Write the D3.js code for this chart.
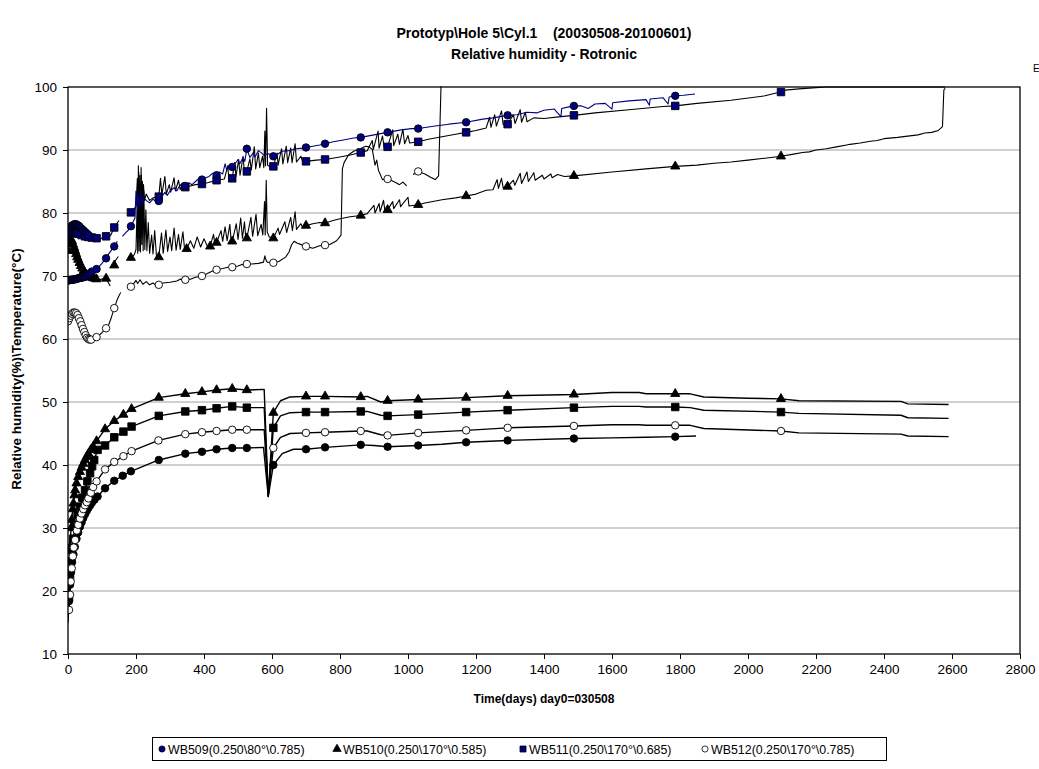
<!DOCTYPE html>
<html>
<head>
<meta charset="utf-8">
<script src="https://cdn.jsdelivr.net/npm/d3@7/dist/d3.min.js"></script>
<style>
  body { margin: 0; background: #fff; }
  svg { font-family: Arial, 'Liberation Sans', sans-serif; }
</style>
</head>
<body>
<div id="chart"></div>
<script>
const titleLines = ['Prototyp\\Hole 5\\Cyl.1    (20030508-20100601)', 'Relative humidity - Rotronic']
const xLabel = 'Time(days) day0=030508'
const yLabel = 'Relative humidity(%)\\Temperature(°C)'
const xTicks = [0, 200, 400, 600, 800, 1000, 1200, 1400, 1600, 1800, 2000, 2200, 2400, 2600, 2800]
const yTicks = [10, 20, 30, 40, 50, 60, 70, 80, 90, 100]
const legendNames = ['WB509(0.250\\80°\\0.785)', 'WB510(0.250\\170°\\0.585)', 'WB511(0.250\\170°\\0.685)', 'WB512(0.250\\170°\\0.785)']

// relative humidity, points with markers: [day, %]
const wb509RhArc = [[0,76.9],[3,77.3],[6,77.6],[9,77.8],[12,78.0],[15,78.1],[18,78.2],[21,78.2],[24,78.2],[27,78.1],[30,78.0],[33,77.9],[36,77.7],[40,77.5],[44,77.3],[48,77.1],[52,76.9],[56,76.7],[60,76.5]]
const wb509RhMarks = [[0,69.3],[3,69.3],[6,69.4],[9,69.4],[12,69.4],[15,69.4],[18,69.5],[21,69.5],[24,69.5],[27,69.6],[30,69.6],[34,69.7],[38,69.7],[42,69.8],[46,69.8],[50,69.9],[55,70.0],[60,70.2],[65,70.4],[70,70.7],[84,71.1],[112,72.8],[136,74.7],[185,77.9],[267,81.9],[345,84.3],[394,85.3],[437,86.0],[483,87.3],[526,90.2],[604,89.0],[700,90.4],[756,91.0],[861,92.0],[940,92.8],[1030,93.4],[1171,94.4],[1293,95.5],[1488,97.0],[1786,98.6]]
const wb509RhExtra = [[90,71.4],[100,72.0],[108,72.6],[118,73.4],[145,75.5],[150,null],[160,76.3],[170,76.9],[178,77.3],[190,78.4],[197,79.2],[200,83.5],[203,80.5],[206,82.8],[210,81.0],[214,83.5],[218,81.2],[222,82.5],[230,82.0],[240,81.6],[250,82.2],[258,81.8],[275,82.5],[285,83.3],[292,82.8],[300,83.5],[312,84.0],[320,83.5],[330,84.5],[340,83.9],[355,84.8],[365,84.5],[375,85.0],[385,85.5],[405,85.6],[415,85.8],[425,86.3],[445,86.5],[455,86.2],[462,87.8],[467,86.8],[475,87.6],[490,87.7],[500,88.5],[505,87.8],[515,88.8],[520,88.2],[535,88.8],[545,89.6],[550,88.9],[560,89.9],[570,89.5],[575,89.2],[590,89.4],[615,89.3],[630,89.8],[650,89.9],[670,90.2],[690,90.3],[720,90.6],[740,90.8],[780,91.3],[810,91.6],[840,91.9],[900,92.4],[980,93.2],[1010,93.4],[1080,93.8],[1120,94.1],[1220,94.9],[1250,95.1],[1320,95.6],[1350,96.0],[1380,95.9],[1400,96.3],[1430,96.5],[1450,95.3],[1452,96.6],[1470,96.8],[1510,97.0],[1530,96.6],[1550,97.3],[1580,97.4],[1600,96.5],[1602,97.5],[1650,97.8],[1700,98.0],[1710,97.1],[1712,98.1],[1750,98.3],[1765,97.3],[1768,98.4],[1810,98.7],[1844,98.9]]

const wb510RhMarks = [[0,74.0],[3,75.2],[6,75.7],[9,75.8],[12,75.5],[15,75.0],[18,74.5],[21,74.0],[24,73.5],[27,73.0],[30,72.6],[34,72.1],[38,71.6],[42,71.2],[46,70.8],[50,70.5],[55,70.2],[60,70.0],[66,69.8],[72,69.7],[78,69.6],[84,69.5],[112,69.6],[136,71.7],[185,72.9],[267,73.0],[349,74.3],[418,74.7],[437,75.3],[483,75.5],[526,76.0],[604,76.0],[700,78.0],[756,78.4],[861,79.6],[940,80.5],[1030,81.3],[1171,82.7],[1293,84.2],[1488,85.9],[1786,87.4],[2097,89.0]]
const wb510RhExtra = [[90,69.4],[100,69.5],[124,68.4],[128,null],[140,72.5],[148,73.1],[152,null],[195,73.4],[200,74.2],[203,80.5],[205,73.6],[207,87.5],[209,74.0],[211,86.0],[213,73.8],[215,87.2],[217,75.0],[219,85.0],[221,74.0],[223,83.5],[226,74.2],[229,80.5],[232,74.0],[236,78.5],[240,73.6],[246,76.5],[250,73.5],[255,77.2],[260,73.3],[275,76.8],[280,73.6],[288,77.3],[293,73.9],[300,76.2],[305,74.0],[312,77.6],[318,74.1],[325,76.6],[330,74.2],[338,77.0],[343,74.2],[360,75.6],[370,74.4],[380,76.2],[390,74.6],[400,75.9],[410,74.7],[428,76.6],[432,75.1],[450,77.2],[455,75.5],[462,77.8],[468,75.6],[476,78.2],[480,75.5],[495,78.3],[500,75.8],[508,79.2],[513,76.0],[519,78.6],[523,76.0],[538,79.3],[543,76.3],[553,79.8],[558,76.4],[568,78.2],[573,76.5],[578,81.8],[580,76.5],[583,85.2],[586,77.0],[592,76.2],[618,77.6],[622,76.6],[638,78.6],[643,76.9],[655,79.3],[660,77.2],[668,80.2],[672,77.4],[685,78.3],[690,77.7],[720,78.3],[740,78.5],[780,78.8],[800,79.1],[830,79.4],[880,79.9],[900,81.2],[903,80.0],[915,81.5],[918,80.2],[928,82.0],[932,80.4],[955,81.8],[958,80.7],[975,82.1],[978,81.0],[1000,82.5],[1003,81.1],[1050,81.6],[1100,82.1],[1140,82.4],[1200,83.0],[1230,83.6],[1250,83.7],[1262,85.3],[1266,83.9],[1275,85.5],[1280,84.0],[1310,85.2],[1314,84.4],[1330,86.3],[1334,84.7],[1350,86.5],[1354,85.0],[1370,86.4],[1374,85.2],[1395,86.0],[1400,85.4],[1420,86.2],[1424,85.6],[1440,86.1],[1460,85.8],[1600,86.5],[1700,87.0],[1850,87.6],[1900,87.9],[1950,88.1],[2000,88.4],[2050,88.7],[2130,89.3],[2160,89.6],[2180,89.7],[2200,90.0],[2230,90.2],[2260,90.5],[2290,90.8],[2300,90.9],[2330,91.1],[2360,91.4],[2380,91.5],[2400,91.8],[2440,92.0],[2470,92.2],[2500,92.4],[2520,92.7],[2540,92.8],[2560,93.1],[2572,93.7],[2576,99.5],[2580,99.8]]

const wb511RhMarks = [[0,76.6],[4,76.8],[8,76.9],[12,77.0],[16,77.0],[20,76.9],[25,76.8],[30,76.7],[40,76.5],[50,76.3],[60,76.2],[70,76.1],[84,76.0],[112,76.3],[136,77.7],[185,80.1],[267,82.6],[345,84.1],[394,84.6],[437,85.2],[483,85.5],[526,86.6],[604,87.4],[700,88.2],[756,88.5],[861,89.6],[940,90.5],[1030,91.3],[1171,92.8],[1293,94.1],[1488,95.5],[1786,97.0],[2097,99.2]]
const wb511RhExtra = [[95,75.9],[125,76.4],[150,78.8],[155,null],[190,80.4],[200,81.0],[204,85.5],[206,80.5],[208,86.5],[210,81.0],[212,84.0],[214,81.5],[216,86.0],[218,81.8],[222,84.5],[225,82.0],[230,83.0],[240,82.0],[250,82.4],[260,82.5],[272,85.5],[276,82.9],[285,85.8],[289,83.0],[298,84.5],[302,83.3],[312,85.6],[316,83.5],[325,85.2],[330,83.7],[338,84.8],[360,84.3],[375,84.5],[410,84.8],[460,85.4],[470,87.5],[473,85.5],[490,88.0],[494,85.8],[502,88.5],[506,86.0],[515,89.0],[519,86.3],[535,88.6],[539,86.8],[548,90.5],[552,87.0],[560,89.5],[564,87.2],[572,89.0],[576,87.2],[579,93.0],[581,87.5],[584,96.6],[587,87.6],[595,87.3],[615,89.5],[618,87.6],[628,90.2],[632,87.8],[642,90.6],[646,88.0],[655,90.3],[659,88.0],[668,91.0],[672,88.1],[685,89.0],[690,88.2],[730,88.4],[800,88.9],[830,89.2],[880,89.9],[895,91.5],[898,90.1],[912,93.0],[915,90.3],[925,92.2],[930,90.4],[955,93.2],[958,90.7],[970,92.5],[975,90.9],[985,93.3],[990,91.0],[1000,92.3],[1005,91.1],[1060,91.7],[1100,92.1],[1140,92.5],[1200,93.1],[1230,93.5],[1240,95.2],[1244,93.6],[1255,95.6],[1260,93.8],[1275,96.2],[1280,94.0],[1310,95.6],[1315,94.2],[1330,96.4],[1334,94.4],[1345,96.0],[1350,94.5],[1370,95.1],[1400,95.0],[1450,95.3],[1550,95.9],[1650,96.4],[1750,96.9],[1850,97.4],[1950,97.9],[2050,98.6],[2080,99.0],[2110,99.5],[2150,99.7],[2200,99.9],[2230,100],[2580,100]]

const wb512RhMarks = [[0,62.8],[4,63.3],[8,63.7],[12,64.0],[16,64.2],[20,64.2],[24,64.1],[28,63.8],[32,63.3],[36,62.8],[40,62.2],[44,61.6],[48,61.1],[52,60.6],[56,60.2],[60,60.0],[64,59.9],[68,59.9],[84,60.3],[112,61.7],[136,64.9],[185,68.3],[267,68.6],[345,69.4],[394,70.0],[437,71.0],[483,71.4],[526,71.9],[604,72.1],[700,74.7],[756,74.9],[940,85.4],[1030,86.6]]
const wb512RhExtra = [[100,61.0],[120,62.3],[128,63.5],[145,66.3],[155,67.4],[160,null],[195,68.9],[200,69.3],[205,68.8],[212,69.4],[220,68.7],[230,69.1],[240,68.6],[250,68.9],[258,68.5],[280,68.9],[300,69.0],[320,69.2],[330,69.5],[360,69.5],[375,69.8],[410,70.4],[425,70.8],[455,71.2],[470,71.4],[500,71.6],[510,71.8],[540,71.9],[560,72.0],[575,72.2],[579,73.2],[582,72.6],[586,72.2],[620,72.3],[640,73.0],[650,73.8],[658,75.0],[665,75.5],[675,75.2],[690,74.9],[720,74.4],[740,74.8],[770,75.0],[790,75.6],[803,76.5],[807,87.0],[812,88.0],[825,89.2],[840,89.8],[860,90.2],[875,90.6],[885,90.5],[895,90.1],[903,87.6],[908,88.4],[913,86.8],[925,85.3],[950,85.2],[965,84.8],[975,84.5],[985,84.9],[996,84.3],[1000,null],[1015,86.1],[1050,86.2],[1065,85.7],[1080,85.3],[1090,85.9],[1098,102]]

// temperature, points with markers: [day, °C]
const wb509TMarks = [[3,18.4],[6,21.0],[9,23.0],[12,24.6],[16,25.8],[20,27.0],[25,28.3],[30,29.3],[35,30.2],[40,30.9],[45,31.6],[50,32.2],[55,32.7],[60,33.2],[65,33.6],[70,34.0],[78,34.5],[87,35.0],[109,36.3],[136,37.5],[161,38.3],[185,39.0],[267,40.8],[345,41.8],[394,42.1],[437,42.5],[483,42.7],[526,42.7],[604,40.0],[700,42.5],[756,42.8],[861,43.2],[940,42.9],[1030,43.1],[1171,43.6],[1293,43.9],[1488,44.2],[1786,44.5]]
const wb509TExtra = [[0,15.0],[575,42.8],[589,35.0],[630,41.8],[663,42.5],[900,43.1],[1100,43.3],[1600,44.3],[1700,44.4],[1847,44.6]]

const wb510TMarks = [[3,22.0],[6,27.0],[9,30.0],[11,31.3],[14,33.0],[16,33.9],[19,35.2],[21,36.0],[25,37.1],[30,38.1],[35,38.9],[40,39.6],[45,40.2],[50,40.8],[55,41.3],[60,41.8],[67,42.4],[74,42.9],[84,43.8],[109,45.7],[136,47.0],[163,48.0],[187,48.9],[267,50.7],[345,51.3],[394,51.6],[437,51.9],[483,52.1],[526,51.9],[604,48.3],[700,50.9],[756,50.9],[861,50.8],[940,50.2],[1030,50.4],[1171,50.7],[1293,51.0],[1488,51.2],[1786,51.3],[2097,50.5]]
const wb510TExtra = [[0,16.0],[577,52.0],[589,35.0],[625,50.2],[653,50.8],[880,50.9],[920,50.0],[1600,51.5],[1680,51.5],[1700,51.3],[1830,51.3],[1870,50.8],[2000,50.6],[2150,50.2],[2450,50.1],[2470,49.7],[2590,49.6]]

const wb511TMarks = [[3,19.0],[6,22.3],[9,24.8],[11,26.5],[15,28.3],[21,30.2],[28,32.0],[35,33.4],[42,34.8],[50,36.0],[57,37.4],[65,38.7],[71,39.8],[77,40.8],[87,42.4],[109,43.1],[136,44.4],[163,45.3],[187,46.1],[267,47.8],[345,48.5],[394,48.7],[437,49.0],[483,49.3],[526,49.1],[604,45.9],[700,48.4],[756,48.4],[861,48.5],[940,47.8],[1030,48.0],[1171,48.4],[1293,48.7],[1488,49.1],[1786,49.2],[2097,48.4]]
const wb511TExtra = [[0,15.5],[577,49.1],[589,35.0],[625,47.8],[653,48.3],[880,48.5],[920,47.9],[1600,49.3],[1680,49.3],[1700,49.2],[1830,49.1],[1870,48.7],[2150,48.2],[2450,47.9],[2470,47.5],[2590,47.4]]

const wb512TMarks = [[3,17.0],[6,19.4],[8,21.5],[11,23.6],[14,25.5],[17,26.9],[21,28.1],[26,29.6],[30,30.5],[35,31.5],[40,32.3],[45,33.0],[50,33.6],[55,34.1],[60,34.7],[67,35.6],[74,36.5],[84,37.4],[109,39.3],[136,40.5],[163,41.4],[187,42.2],[266,43.9],[345,44.9],[394,45.2],[437,45.4],[483,45.6],[526,45.6],[604,42.7],[700,45.1],[756,45.2],[861,45.4],[940,44.7],[1030,45.1],[1171,45.5],[1293,45.9],[1488,46.2],[1786,46.3],[2097,45.4]]
const wb512TExtra = [[0,15.8],[577,45.6],[589,35.2],[625,44.4],[653,45.0],[880,45.4],[920,44.8],[1600,46.4],[1680,46.4],[1700,46.3],[1830,46.3],[1870,45.8],[2150,45.1],[2450,44.9],[2470,44.6],[2590,44.5]]

const CHART = Object.freeze({
  WIDTH: 1039,
  HEIGHT: 769,
  LEFT: 68,
  RIGHT: 1020,
  TOP: 87,
  BOTTOM: 654,
})
const NAVY = '#000080'
const FONT = 'Arial, Liberation Sans, sans-serif'

const xScale = d3.scaleLinear().domain([0, 2800]).range([CHART.LEFT, CHART.RIGHT])
const yScale = d3.scaleLinear().domain([10, 100]).range([CHART.BOTTOM, CHART.TOP])

const joinPoints = (marks, extra) => [...marks, ...extra].sort((a, b) => a[0] - b[0])

const seriesList = [
  { marks: wb509TMarks, extra: wb509TExtra, line: '#000', width: 1.4, symbol: d3.symbolCircle, size: 44, fill: '#000' },
  { marks: wb510TMarks, extra: wb510TExtra, line: '#000', width: 1.4, symbol: d3.symbolTriangle, size: 36, fill: '#000' },
  { marks: wb511TMarks, extra: wb511TExtra, line: '#000', width: 1.4, symbol: d3.symbolSquare, size: 56, fill: '#000' },
  { marks: wb512TMarks, extra: wb512TExtra, line: '#000', width: 1.4, symbol: d3.symbolCircle, size: 44, fill: '#fff' },
  { marks: wb512RhMarks, extra: wb512RhExtra, line: '#000', width: 1.1, symbol: d3.symbolCircle, size: 44, fill: '#fff' },
  { marks: wb510RhMarks, extra: wb510RhExtra, line: '#000', width: 1.1, symbol: d3.symbolTriangle, size: 36, fill: '#000' },
  { marks: wb511RhMarks, extra: wb511RhExtra, line: '#000', width: 1.1, symbol: d3.symbolSquare, size: 56, fill: NAVY },
  { marks: wb509RhArc, extra: [], line: NAVY, width: 1.1, symbol: d3.symbolCircle, size: 44, fill: NAVY },
  { marks: wb509RhMarks, extra: wb509RhExtra, line: NAVY, width: 1.1, symbol: d3.symbolCircle, size: 44, fill: NAVY },
]

const legendItems = [
  { name: legendNames[0], symbol: d3.symbolCircle, fill: NAVY },
  { name: legendNames[1], symbol: d3.symbolTriangle, fill: '#000' },
  { name: legendNames[2], symbol: d3.symbolSquare, fill: NAVY },
  { name: legendNames[3], symbol: d3.symbolCircle, fill: '#fff' },
]

const buildChart = () => {
  const svg = d3.select('#chart')
    .append('svg')
    .attr('width', CHART.WIDTH)
    .attr('height', CHART.HEIGHT)

  svg.append('rect')
    .attr('width', CHART.WIDTH)
    .attr('height', CHART.HEIGHT)
    .attr('fill', '#fff')

  svg.append('defs').append('clipPath')
    .attr('id', 'plot-clip')
    .append('rect')
    .attr('x', CHART.LEFT)
    .attr('y', CHART.TOP - 1)
    .attr('width', CHART.RIGHT - CHART.LEFT)
    .attr('height', CHART.BOTTOM - CHART.TOP + 1)

  // title
  svg.append('g')
    .selectAll('text')
    .data(titleLines)
    .enter()
    .append('text')
    .attr('x', 544)
    .attr('y', (d, i) => 38 + i * 21)
    .attr('text-anchor', 'middle')
    .style('font-size', '14px')
    .style('font-weight', 'bold')
    .style('white-space', 'pre')
    .text(d => d)

  // gridlines
  svg.append('g')
    .selectAll('line')
    .data(yTicks.filter(v => v > 10 && v < 100))
    .enter()
    .append('line')
    .attr('x1', CHART.LEFT)
    .attr('x2', CHART.RIGHT)
    .attr('y1', d => yScale(d))
    .attr('y2', d => yScale(d))
    .attr('stroke', '#a0a0a0')
    .attr('stroke-width', 1)

  const xAxis = d3.axisBottom(xScale).tickValues(xTicks).tickSize(5).tickPadding(5).tickFormat(d3.format('d'))
  const yAxis = d3.axisLeft(yScale).tickValues(yTicks).tickSize(5).tickPadding(6)

  svg.append('g')
    .attr('transform', `translate(0, ${CHART.BOTTOM})`)
    .call(xAxis)
    .call(g => g.select('.domain').remove())
    .call(g => g.selectAll('text').style('font-size', '13.5px').attr('fill', '#000').style('font-family', FONT))
    .call(g => g.selectAll('line').attr('stroke', '#000'))

  svg.append('g')
    .attr('transform', `translate(${CHART.LEFT}, 0)`)
    .call(yAxis)
    .call(g => g.select('.domain').remove())
    .call(g => g.selectAll('text').style('font-size', '13.5px').attr('fill', '#000').style('font-family', FONT))
    .call(g => g.selectAll('line').attr('stroke', '#000'))

  // series
  const line = d3.line()
    .defined(d => d[1] !== null)
    .x(d => xScale(d[0]))
    .y(d => yScale(d[1]))

  const plot = svg.append('g').attr('clip-path', 'url(#plot-clip)')

  seriesList.forEach(s => {
    plot.append('path')
      .datum(joinPoints(s.marks, s.extra))
      .attr('fill', 'none')
      .attr('stroke', s.line)
      .attr('stroke-width', s.width)
      .attr('stroke-linejoin', 'round')
      .attr('d', line)

    plot.append('g')
      .selectAll('path')
      .data(s.marks)
      .enter()
      .append('path')
      .attr('transform', d => `translate(${xScale(d[0])}, ${yScale(d[1])})`)
      .attr('d', d3.symbol().type(s.symbol).size(s.size))
      .attr('fill', s.fill)
      .attr('stroke', '#000')
      .attr('stroke-width', 0.9)
  })

  // plot frame
  svg.append('rect')
    .attr('x', CHART.LEFT)
    .attr('y', CHART.TOP)
    .attr('width', CHART.RIGHT - CHART.LEFT)
    .attr('height', CHART.BOTTOM - CHART.TOP)
    .attr('fill', 'none')
    .attr('stroke', '#000')
    .attr('stroke-width', 1.3)

  // axis titles
  svg.append('text')
    .attr('x', 544)
    .attr('y', 703)
    .attr('text-anchor', 'middle')
    .style('font-size', '12px')
    .style('font-weight', 'bold')
    .text(xLabel)

  svg.append('text')
    .attr('transform', 'translate(21, 369) rotate(-90)')
    .attr('text-anchor', 'middle')
    .style('font-size', '13.5px')
    .style('font-weight', 'bold')
    .text(yLabel)

  svg.append('text')
    .attr('x', 1033)
    .attr('y', 72)
    .style('font-size', '10px')
    .text('E')

  // legend
  const legend = svg.append('g')
  legend.append('rect')
    .attr('x', 152.5)
    .attr('y', 737.5)
    .attr('width', 734)
    .attr('height', 23)
    .attr('fill', '#fff')
    .attr('stroke', '#000')
    .attr('stroke-width', 1)

  const legendX = [162, 337, 523, 705]
  legendItems.forEach((item, i) => {
    legend.append('path')
      .attr('transform', `translate(${legendX[i]}, 749)`)
      .attr('d', d3.symbol().type(item.symbol).size(i === 2 ? 36 : 30))
      .attr('fill', item.fill)
      .attr('stroke', '#000')
      .attr('stroke-width', 0.8)
    legend.append('text')
      .attr('x', legendX[i] + 6)
      .attr('y', 753.5)
      .style('font-size', '12.4px')
      .text(item.name)
  })
}

document.addEventListener('DOMContentLoaded', () => {
  buildChart()
})
</script>
</body>
</html>
